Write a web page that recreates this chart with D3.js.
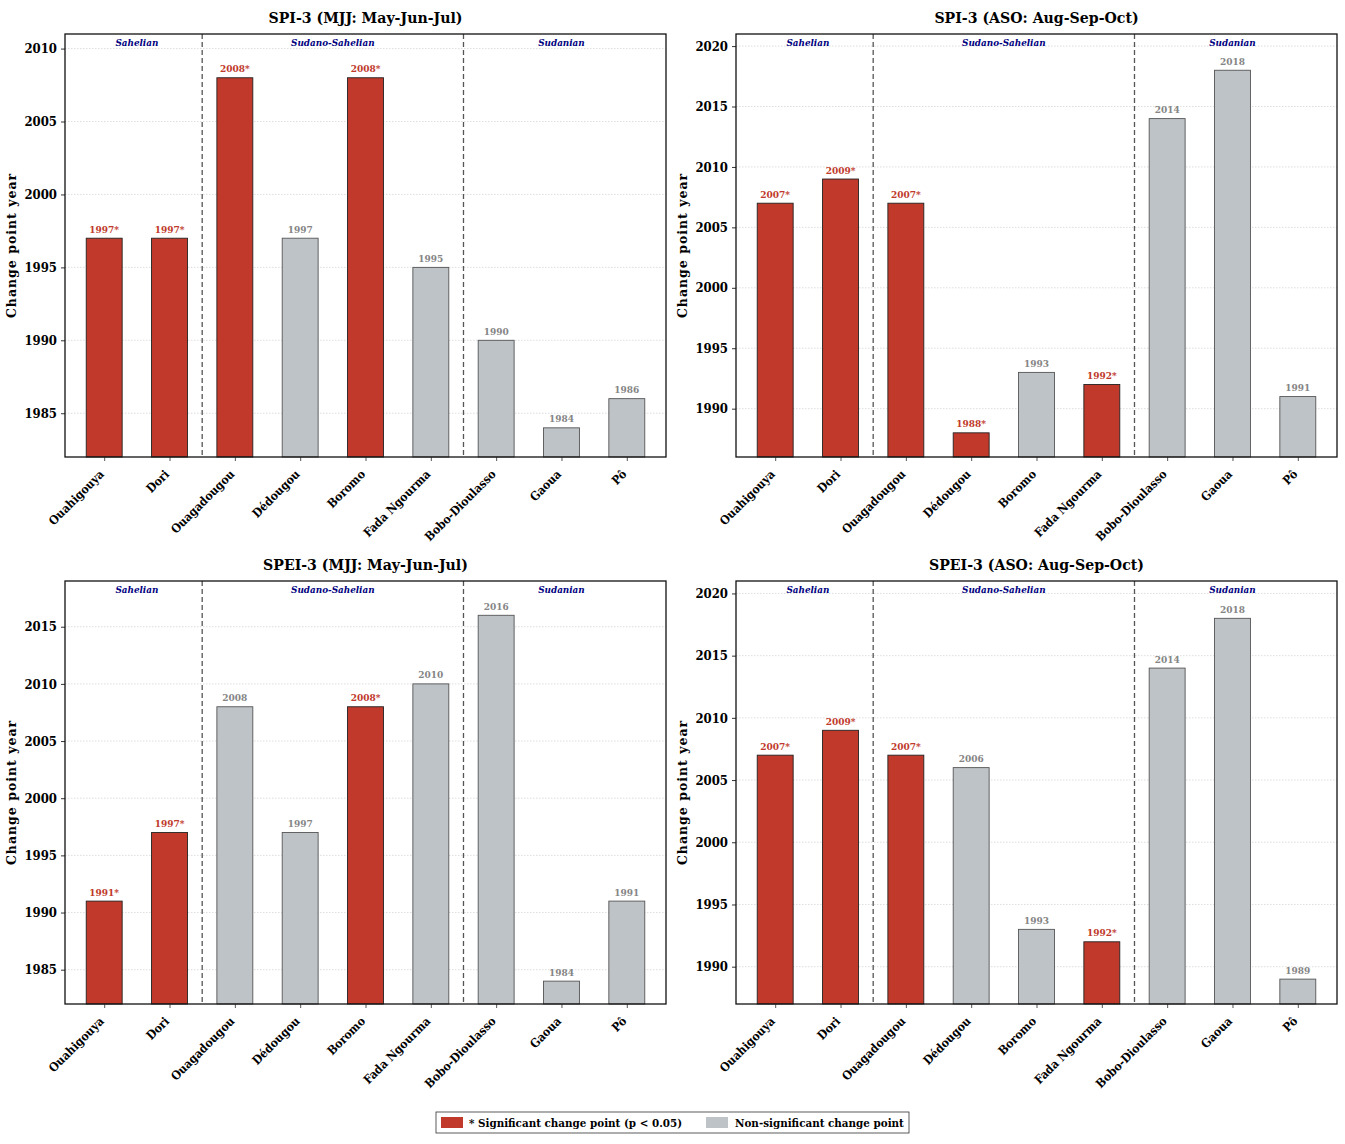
<!DOCTYPE html>
<html><head><meta charset="utf-8">
<script src="https://cdn.jsdelivr.net/npm/d3@7"></script>
<style>
body{margin:0;background:#fff;}
text{font-family:"DejaVu Serif Condensed","DejaVu Serif",serif;font-stretch:condensed;}
</style></head>
<body><svg id="chart" width="1345" height="1144"></svg>
<script>
const stations = ["Ouahigouya","Dori","Ouagadougou","Dédougou","Boromo","Fada Ngourma","Bobo-Dioulasso","Gaoua","Pô"];
const zones = ["Sahelian","Sudano-Sahelian","Sudanian"];
const zoneCenters = [0.5, 3.5, 7];
const zoneBreaks = [1.5, 5.5];
const titles = ["SPI-3 (MJJ: May-Jun-Jul)","SPI-3 (ASO: Aug-Sep-Oct)","SPEI-3 (MJJ: May-Jun-Jul)","SPEI-3 (ASO: Aug-Sep-Oct)"];
const spiMJJ = [1997,1997,2008,1997,2008,1995,1990,1984,1986];
const spiMJJsig = [1,1,1,0,1,0,0,0,0];
const spiASO = [2007,2009,2007,1988,1993,1992,2014,2018,1991];
const spiASOsig = [1,1,1,1,0,1,0,0,0];
const speiMJJ = [1991,1997,2008,1997,2008,2010,2016,1984,1991];
const speiMJJsig = [1,1,0,0,1,0,0,0,0];
const speiASO = [2007,2009,2007,2006,1993,1992,2014,2018,1989];
const speiASOsig = [1,1,1,0,0,1,0,0,0];
const legendLabels = ["* Significant change point (p < 0.05)","Non-significant change point"];

const panels = [
  {vals:spiMJJ, sig:spiMJJsig, x:65, y:34},
  {vals:spiASO, sig:spiASOsig, x:736, y:34},
  {vals:speiMJJ, sig:speiMJJsig, x:65, y:581},
  {vals:speiASO, sig:speiASOsig, x:736, y:581}
];
const W = 601, H = 423;
const RED = "#c0392b", GRAY = "#bdc3c7";
const svg = d3.select("#chart");

panels.forEach((p, pi) => {
  const g = svg.append("g").attr("transform", `translate(${p.x},${p.y})`);
  const x = d3.scaleLinear().domain([-0.6, 8.6]).range([0, W]);
  const ymin = d3.min(p.vals) - 2, ymax = d3.max(p.vals) + 3;
  const y = d3.scaleLinear().domain([ymin, ymax]).range([H, 0]);
  const ticks = d3.range(Math.ceil(ymin/5)*5, ymax + 0.001, 5);

  // grid
  g.selectAll(".grid").data(ticks).enter().append("line")
    .attr("x1", 0).attr("x2", W).attr("y1", d => y(d)).attr("y2", d => y(d))
    .attr("stroke", "#c8c8c8").attr("stroke-width", 0.6).attr("stroke-dasharray", "1.5,1.5");

  const bw = x(0.55) - x(0);
  g.selectAll(".bar").data(p.vals).enter().append("rect")
    .attr("x", (d,i) => x(i) - bw/2).attr("width", bw)
    .attr("y", d => y(d)).attr("height", d => H - y(d))
    .attr("fill", (d,i) => p.sig[i] ? RED : GRAY)
    .attr("stroke", (d,i) => p.sig[i] ? "#222" : "#555").attr("stroke-width", 0.9);

  g.selectAll(".vl").data(p.vals).enter().append("text")
    .attr("x", (d,i) => x(i)).attr("y", d => y(d) - 5.5)
    .attr("text-anchor", "middle").attr("font-size", 10)
    .attr("font-weight", "bold")
    .attr("fill", (d,i) => p.sig[i] ? RED : "#858585")
    .text((d,i) => d + (p.sig[i] ? "*" : ""));

  // zone breaks
  g.selectAll(".zb").data(zoneBreaks).enter().append("line")
    .attr("x1", d => x(d)).attr("x2", d => x(d)).attr("y1", 0).attr("y2", H)
    .attr("stroke", "#555").attr("stroke-width", 1.3).attr("stroke-dasharray", "5,3");

  g.selectAll(".zl").data(zones).enter().append("text")
    .attr("x", (d,i) => x(zoneCenters[i])).attr("y", 11.5)
    .attr("text-anchor", "middle").attr("font-size", 9.8)
    .attr("font-weight", "bold").attr("font-style", "italic")
    .attr("fill", "#000080").text(d => d);

  // y axis
  const ya = g.append("g").call(d3.axisLeft(y).tickValues(ticks).tickFormat(d3.format("d")).tickSize(4).tickPadding(4));
  ya.select(".domain").remove();
  ya.selectAll("text").attr("font-size", 13).attr("font-weight", "bold").attr("fill", "#000")
    .style("font-family", "'DejaVu Serif Condensed','DejaVu Serif'");
  ya.selectAll("line").attr("stroke", "#333");

  // x axis
  const xa = g.append("g").attr("transform", `translate(0,${H})`)
    .call(d3.axisBottom(x).tickValues(d3.range(stations.length)).tickFormat(i => stations[i]).tickSize(4).tickPadding(2));
  xa.select(".domain").remove();
  xa.selectAll("line").attr("stroke", "#555");
  xa.selectAll("text").attr("font-size", 12).attr("font-weight", "bold").attr("fill", "#000")
    .style("font-family", "'DejaVu Serif Condensed','DejaVu Serif'")
    .attr("text-anchor", "end").attr("x", 0).attr("y", 0).attr("dy", "0.35em")
    .attr("transform", "translate(-3,15) rotate(-45)");

  // frame
  g.append("rect").attr("x", 0).attr("y", 0).attr("width", W).attr("height", H)
    .attr("fill", "none").attr("stroke", "#111").attr("stroke-width", 1.3);

  // title
  g.append("text").attr("x", W/2).attr("y", -11).attr("text-anchor", "middle")
    .attr("font-size", 15.7).attr("font-weight", "bold")
    .text(titles[pi]);

  // y label
  g.append("text").attr("transform", `translate(${-49},${H/2}) rotate(-90)`)
    .attr("text-anchor", "middle").attr("font-size", 12.5).attr("font-weight", "bold")
    .attr("letter-spacing", 1)
    .style("font-family", "'DejaVu Serif'").style("font-stretch", "normal")
    .text("Change point year");
});

// legend
const lg = svg.append("g").attr("transform", "translate(436,1112)");
lg.append("rect").attr("width", 473).attr("height", 21).attr("fill", "#fff").attr("stroke", "#333").attr("stroke-width", 0.8);
const items = [{c:RED, x:5, tx:33}, {c:GRAY, x:270, tx:299}];
items.forEach((it, i) => {
  lg.append("rect").attr("x", it.x).attr("y", 5).attr("width", 22).attr("height", 11)
    .attr("fill", it.c).attr("stroke", "none");
  lg.append("text").attr("x", it.tx).attr("y", 15).attr("font-size", 11.5).attr("font-weight", "bold")
    .text(legendLabels[i]);
});
</script></body></html>
